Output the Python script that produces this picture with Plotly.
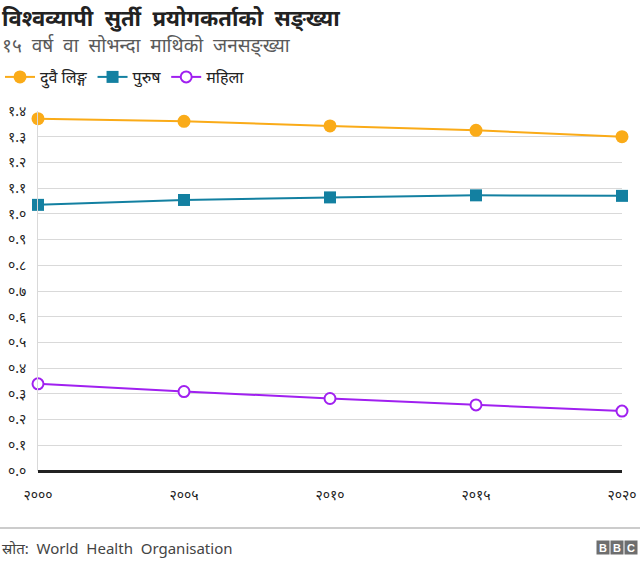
import plotly.graph_objects as go

years = [2000, 2005, 2010, 2015, 2020]
year_labels = ["२०००", "२००५", "२०१०", "२०१५", "२०२०"]
both = [1.370, 1.360, 1.342, 1.325, 1.300]
male = [1.035, 1.054, 1.064, 1.072, 1.070]
female = [0.339, 0.309, 0.282, 0.257, 0.233]
ytick_vals = [0.0, 0.1, 0.2, 0.3, 0.4, 0.5, 0.6, 0.7, 0.8, 0.9, 1.0, 1.1, 1.2, 1.3, 1.4]
ytick_labels = ["०.०", "०.१", "०.२", "०.३", "०.४", "०.५", "०.६", "०.७", "०.८", "०.९",
                "१.०", "१.१", "१.२", "१.३", "१.४"]
names = ["दुवै लिङ्ग", "पुरुष", "महिला"]

W, H = 640, 562
L, R, T, B = 38, 622, 111, 471

def px(x):
    return (x - L) / (R - L)

def py(y):
    return (B - y) / (B - T)

FONT = "Noto Sans, Lato, sans-serif"

fig = go.Figure()
fig.add_trace(go.Scatter(x=years, y=both, name=names[0], mode="lines+markers",
                         line=dict(color="#FAAB18", width=2),
                         marker=dict(symbol="circle", size=13, color="#FAAB18"),
                         cliponaxis=False))
fig.add_trace(go.Scatter(x=years, y=male, name=names[1], mode="lines+markers",
                         line=dict(color="#1380A1", width=2),
                         marker=dict(symbol="square", size=12, color="#1380A1"),
                         cliponaxis=False))
fig.add_trace(go.Scatter(x=years, y=female, name=names[2], mode="lines+markers",
                         line=dict(color="#A020F0", width=2),
                         marker=dict(symbol="circle", size=11, color="white",
                                     line=dict(color="#A020F0", width=2)),
                         cliponaxis=False))

fig.update_layout(
    width=W, height=H,
    margin=dict(l=L, r=W - R, t=T, b=H - B, autoexpand=False),
    paper_bgcolor="white", plot_bgcolor="white",
    font=dict(family=FONT, color="#222222"),
    showlegend=True,
    legend=dict(orientation="h", x=-0.01, y=(H - 77) / H, xref="container", yref="container",
                xanchor="left", yanchor="middle",
                font=dict(size=16, color="#222222"), itemwidth=30,
                bgcolor="rgba(0,0,0,0)"),
    xaxis=dict(range=[2000, 2020], tickmode="array", tickvals=years, ticktext=year_labels,
               showgrid=False, zeroline=False, showline=False, ticks="", automargin=False,
               tickfont=dict(size=14, color="#222222"), ticklabelstandoff=14),
    yaxis=dict(range=[0, 1.4], tickmode="array", tickvals=ytick_vals, ticktext=ytick_labels,
               showgrid=True, gridcolor="#d9d9d9", gridwidth=1, automargin=False,
               zeroline=True, zerolinecolor="#222222", zerolinewidth=2.5,
               showline=True, linecolor="#d9d9d9", linewidth=1, ticks="",
               tickfont=dict(size=14, color="#222222"), ticklabelstandoff=8),
)

annotations = [
    dict(text="<b>विश्वव्यापी  सुर्ती  प्रयोगकर्ताको  सङ्ख्या</b>", x=px(0), y=py(17),
         xanchor="left", yanchor="middle", font=dict(size=22, color="#222222")),
    dict(text="१५  वर्ष  वा  सोभन्दा  माथिको  जनसङ्ख्या", x=px(0), y=py(45),
         xanchor="left", yanchor="middle", font=dict(size=19, color="#5a5a5a")),
    dict(text="स्रोत:  World  Health  Organisation", x=px(0), y=py(548),
         xanchor="left", yanchor="middle", font=dict(size=15, color="#444444")),
]
for a in annotations:
    a.update(xref="paper", yref="paper", showarrow=False)
fig.update_layout(annotations=annotations)

fig.update_layout(shapes=[dict(type="line", xref="paper", yref="paper", x0=px(0), x1=px(640),
                               y0=py(528), y1=py(528), line=dict(color="#999999", width=1))])
for i, letter in enumerate("BBC"):
    x0 = 597 + i * 14
    fig.add_annotation(text="<b>" + letter + "</b>", x=px(x0 + 6), y=py(547.5),
                       xref="paper", yref="paper", showarrow=False,
                       xanchor="center", yanchor="middle",
                       width=12, height=13, borderpad=0, bgcolor="#6e6e6e",
                       font=dict(size=11, color="white", family="Liberation Sans, Arial"))

fig.write_html("out.html", config={"displayModeBar": False},
               post_script="document.body.style.margin='0';document.body.style.padding='0';")
